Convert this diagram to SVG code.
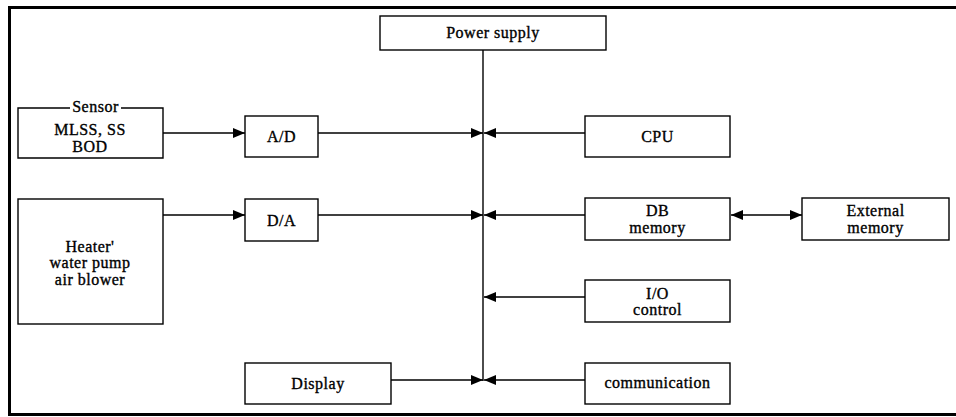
<svg xmlns="http://www.w3.org/2000/svg" width="956" height="417" viewBox="0 0 956 417">
<defs>
<style>
.box{fill:#fff;stroke:#000;stroke-width:1.4}
.ln{fill:none;stroke:#000;stroke-width:1.4}
.frame{fill:none;stroke:#000;stroke-width:3}
text{font-family:"Liberation Serif","Times New Roman",serif;font-size:16px;letter-spacing:0.5px;text-anchor:middle;fill:#000;stroke:#000;stroke-width:0.35}
</style>
<marker id="ah" viewBox="0 0 12 10" refX="12" refY="5" markerWidth="12" markerHeight="10" markerUnits="userSpaceOnUse" orient="auto-start-reverse">
<path d="M0,0 L12,5 L0,10 Z" fill="#000"/>
</marker>
</defs>
<rect width="956" height="417" fill="#fff"/>
<g id="frame">
<path class="frame" d="M956,7.5 H9.5 V414.5 H956"/>
</g>
<g id="connectors">
<line class="ln" x1="483" y1="50" x2="483" y2="381"/>
<line class="ln" x1="163" y1="133" x2="245" y2="133" marker-end="url(#ah)"/>
<line class="ln" x1="318" y1="133" x2="483" y2="133" marker-end="url(#ah)"/>
<line class="ln" x1="585" y1="133" x2="484" y2="133" marker-end="url(#ah)"/>
<line class="ln" x1="163" y1="215" x2="245" y2="215" marker-end="url(#ah)"/>
<line class="ln" x1="318" y1="215" x2="483" y2="215" marker-end="url(#ah)"/>
<line class="ln" x1="585" y1="215" x2="484" y2="215" marker-end="url(#ah)"/>
<line class="ln" x1="731" y1="215" x2="802" y2="215" marker-start="url(#ah)" marker-end="url(#ah)"/>
<line class="ln" x1="585" y1="297" x2="484" y2="297" marker-end="url(#ah)"/>
<line class="ln" x1="391" y1="380" x2="483" y2="380" marker-end="url(#ah)"/>
<line class="ln" x1="585" y1="380" x2="484" y2="380" marker-end="url(#ah)"/>
</g>
<g id="power-supply">
<rect class="box" x="380" y="16" width="226" height="34"/>
<text x="493" y="38">Power supply</text>
</g>
<g id="sensor">
<path class="ln" d="M70,108 H18 V158 H163 V108 H121"/>
<text x="95.5" y="112">Sensor</text>
<text x="90" y="135">MLSS, SS</text>
<text x="90" y="152">BOD</text>
</g>
<g id="ad">
<rect class="box" x="245" y="116" width="73" height="41"/>
<text x="281.5" y="142">A/D</text>
</g>
<g id="cpu">
<rect class="box" x="585" y="116" width="145" height="41"/>
<text x="657.5" y="142">CPU</text>
</g>
<g id="heater">
<rect class="box" x="18" y="199" width="145" height="125"/>
<text x="90" y="252">Heater'</text>
<text x="90" y="268">water pump</text>
<text x="90" y="285">air blower</text>
</g>
<g id="da">
<rect class="box" x="245" y="199" width="73" height="42"/>
<text x="281.5" y="226">D/A</text>
</g>
<g id="db-memory">
<rect class="box" x="585" y="198" width="145" height="42"/>
<text x="657.5" y="216">DB</text>
<text x="657.5" y="233">memory</text>
</g>
<g id="external-memory">
<rect class="box" x="802" y="198" width="147" height="42"/>
<text x="875.5" y="216">External</text>
<text x="875.5" y="233">memory</text>
</g>
<g id="io-control">
<rect class="box" x="585" y="280" width="145" height="42"/>
<text x="657.5" y="299">I/O</text>
<text x="657.5" y="315">control</text>
</g>
<g id="display">
<rect class="box" x="245" y="363" width="146" height="41"/>
<text x="318" y="389">Display</text>
</g>
<g id="communication">
<rect class="box" x="585" y="363" width="145" height="41"/>
<text x="657.5" y="388">communication</text>
</g>
</svg>
